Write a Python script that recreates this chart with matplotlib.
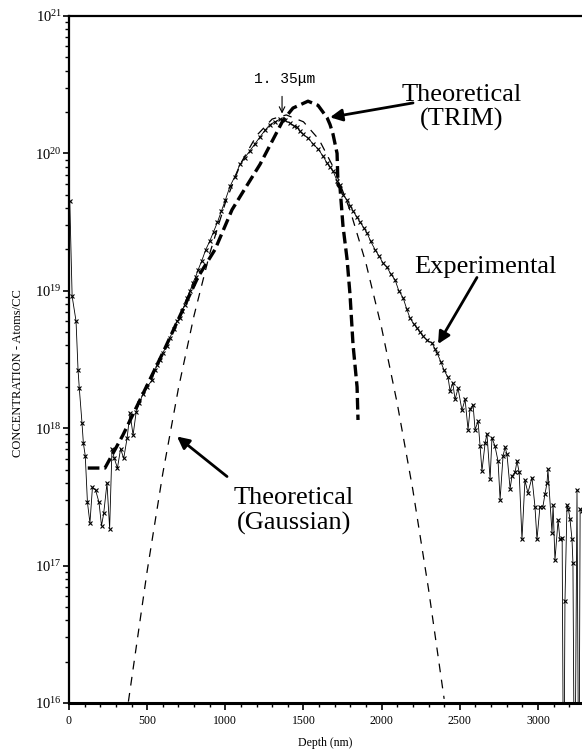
import numpy as np
import matplotlib.pyplot as plt
from matplotlib.ticker import LogLocator, MultipleLocator, NullFormatter

plt.rcParams['font.family'] = ['Liberation Serif', 'DejaVu Serif']
plt.rcParams['mathtext.fontset'] = 'stix'

# Experimental (SIMS) profile: depth in nm, log10 of concentration
exp_depth = [5, 20, 45, 58, 66, 83, 92, 104, 118, 134, 150, 170, 192, 208, 222, 243, 260,
             275, 290, 310, 330, 350, 372, 390, 410, 430, 450, 473, 500, 531, 550, 563, 580,
             601, 625, 646, 670, 691, 710, 723, 740, 755, 775, 793, 810, 825, 850, 875, 900,
             925, 950, 975, 1000, 1030, 1060, 1094, 1125, 1158, 1190, 1222, 1255, 1286, 1318,
             1350, 1380, 1414, 1440, 1459, 1478, 1497, 1530, 1561, 1595, 1625, 1651, 1670,
             1690, 1715, 1734, 1753, 1779, 1800, 1817, 1840, 1862, 1885, 1907, 1930, 1958,
             1985, 2010, 2035, 2060, 2086, 2110, 2137, 2160, 2182, 2205, 2226, 2245, 2265,
             2290, 2322, 2340, 2354, 2380, 2400, 2425, 2438, 2455, 2470, 2489, 2514, 2534,
             2553, 2566, 2585, 2598, 2617, 2630, 2642, 2662, 2674, 2694, 2706, 2725, 2745,
             2758, 2777, 2790, 2802, 2822, 2834, 2854, 2866, 2880, 2898, 2917, 2936, 2962,
             2981, 2994, 3013, 3032, 3045, 3058, 3064, 3090, 3097, 3109, 3129, 3141, 3155,
             3165, 3173, 3186, 3195, 3205, 3218, 3224, 3235, 3250, 3262, 3270, 3282]
exp_log = [19.65, 18.96, 18.78, 18.42, 18.29, 18.04, 17.89, 17.80, 17.46, 17.31, 17.57, 17.55,
           17.46, 17.29, 17.38, 17.60, 17.27, 17.85, 17.78, 17.71, 17.85, 17.78, 17.93, 18.11,
           17.95, 18.12, 18.18, 18.25, 18.30, 18.35, 18.42, 18.46, 18.50, 18.55, 18.60, 18.66,
           18.72, 18.78, 18.80, 18.85, 18.90, 18.95, 19.00, 19.06, 19.10, 19.15, 19.22, 19.30,
           19.36, 19.43, 19.50, 19.58, 19.66, 19.76, 19.83, 19.92, 19.97, 20.02, 20.07, 20.12,
           20.17, 20.21, 20.23, 20.25, 20.24, 20.22, 20.20, 20.19, 20.16, 20.14, 20.11, 20.07,
           20.03, 19.98, 19.93, 19.90, 19.87, 19.80, 19.77, 19.70, 19.66, 19.62, 19.58, 19.54,
           19.50, 19.46, 19.42, 19.36, 19.30, 19.25, 19.20, 19.17, 19.12, 19.08, 19.00, 18.95,
           18.87, 18.80, 18.76, 18.73, 18.70, 18.67, 18.64, 18.62, 18.58, 18.55, 18.48, 18.42,
           18.37, 18.27, 18.33, 18.21, 18.29, 18.13, 18.21, 17.99, 18.14, 18.17, 17.99, 18.05,
           17.87, 17.69, 17.89, 17.96, 17.63, 17.93, 17.87, 17.76, 17.48, 17.80, 17.86, 17.81,
           17.56, 17.65, 17.68, 17.76, 17.68, 17.19, 17.62, 17.53, 17.64, 17.43, 17.19, 17.43,
           17.43, 17.52, 17.60, 17.70, 17.24, 17.44, 17.04, 17.33, 17.19, 17.20, 15.00, 16.74,
           17.44, 17.41, 17.34, 17.19, 17.02, 15.00, 17.55, 15.00, 17.41, 17.40]

# Theoretical TRIM profile
trim_depth = [120, 230, 345, 473, 601, 723, 825, 934, 1043, 1113, 1222, 1369, 1433, 1529,
              1593, 1651, 1670, 1689, 1715, 1721, 1734, 1753, 1779, 1798, 1817, 1843, 1849]
trim_log = [17.71, 17.71, 17.95, 18.25, 18.55, 18.85, 19.10, 19.30, 19.59, 19.72, 19.92,
            20.24, 20.33, 20.38, 20.35, 20.26, 20.21, 20.14, 20.00, 19.77, 19.75, 19.47,
            19.23, 18.97, 18.61, 18.30, 18.06]

# Theoretical Gaussian profile
gauss_depth = [380, 500, 600, 700, 800, 900, 1000, 1100, 1200, 1300, 1390, 1500, 1600, 1700,
               1800, 1900, 2000, 2100, 2200, 2300, 2400]
gauss_log = [16.01, 16.96, 17.67, 18.29, 18.82, 19.27, 19.64, 19.93, 20.13, 20.25, 20.28,
             20.23, 20.10, 19.88, 19.58, 19.20, 18.73, 18.18, 17.55, 16.83, 16.03]

exp_conc = 10.0 ** np.array(exp_log)
trim_conc = 10.0 ** np.array(trim_log)
gauss_conc = 10.0 ** np.array(gauss_log)

W, H = 582, 749
fig = plt.figure(figsize=(W / 100, H / 100), dpi=100)
ax = fig.add_axes([69 / W, 46 / H, (W - 69) / W, 687 / H])

ax.plot(gauss_depth, gauss_conc, color='black', lw=0.9, dashes=(7, 6))
ax.plot(trim_depth, trim_conc, color='black', lw=2.4, dashes=(3.5, 1.5))
ax.plot(exp_depth, exp_conc, color='black', lw=0.6, marker='x', ms=3.2, mew=0.8)

ax.set_yscale('log')
ax.set_ylim(1e16, 1e21)
ax.set_xlim(0, 3282)
ax.xaxis.set_major_locator(MultipleLocator(500))
ax.xaxis.set_minor_locator(MultipleLocator(100))
ax.yaxis.set_major_locator(LogLocator(base=10))
ax.yaxis.set_minor_locator(LogLocator(base=10, subs=np.arange(2, 10)))
ax.yaxis.set_minor_formatter(NullFormatter())
ax.tick_params(axis='x', which='major', direction='out', length=5, width=1.2, labelsize=8.5)
ax.tick_params(axis='y', which='major', direction='out', length=4, width=1.2, labelsize=10.5,
               pad=1)
ax.tick_params(axis='both', which='minor', direction='out', length=3, width=1)

ax.spines['right'].set_visible(False)
ax.spines['left'].set_linewidth(1.6)
ax.spines['bottom'].set_linewidth(2.2)
ax.spines['top'].set_linewidth(1.6)

ax.set_xlabel('Depth (nm)', fontsize=8.5, labelpad=7)
ax.set_ylabel('CONCENTRATION - Atoms/CC', fontsize=9)
ax.yaxis.set_label_coords(-0.088, 0.48)

arrow = dict(arrowstyle='-|>', lw=2, color='black', mutation_scale=18, shrinkA=0, shrinkB=0)
label_kw = dict(fontsize=19, ha='center', va='center', linespacing=1.12)

ax.text(2514, 2.15e20, 'Theoretical\n(TRIM)', **label_kw)
ax.annotate('', xy=(1670, 1.83e20), xytext=(2201, 2.33e20), arrowprops=arrow)

ax.text(2662, 1.5e19, 'Experimental', **label_kw)
ax.annotate('', xy=(2361, 4.1e18), xytext=(2610, 1.25e19), arrowprops=arrow)

ax.text(1440, 2.5e17, 'Theoretical\n(Gaussian)', **label_kw)
ax.annotate('', xy=(691, 8.7e17), xytext=(1011, 4.45e17), arrowprops=arrow)

ax.text(1382, 3.5e20, '1. 35\u03bcm', fontsize=10.5, ha='center', va='center',
        family=['Liberation Mono', 'DejaVu Sans Mono'])
ax.annotate('', xy=(1363, 1.95e20), xytext=(1363, 2.6e20),
            arrowprops=dict(arrowstyle='->', lw=0.8, color='black', shrinkA=0, shrinkB=0))

fig.savefig('out.png', dpi=100)
